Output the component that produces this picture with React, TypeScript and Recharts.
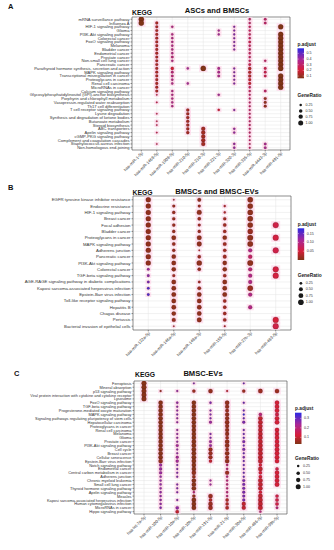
import React from "react";
import { ScatterChart, Scatter, XAxis, YAxis, CartesianGrid, ReferenceArea } from "recharts";

const FONT = '"Liberation Sans", Arial, sans-serif';

// ---------- A: ASCs and BMSCs ----------
const colsA = [
  "hsa-miR-1-5p", "hsa-miR-1468-5p", "hsa-miR-1908-5p", "hsa-miR-210-5p", "hsa-miR-210-3p",
  "hsa-miR-221-3p", "hsa-miR-320-3p", "hsa-miR-335-5p", "hsa-miR-4443-3p", "hsa-miR-491-5p",
];
const rowsA = [
  "mRNA surveillance pathway", "Influenza A", "HIF-1 signaling pathway", "Glioma",
  "PI3K-Akt signaling pathway", "Colorectal cancer", "FoxO signaling pathway", "Melanoma",
  "Bladder cancer", "Endometrial cancer", "Prostate cancer", "Non-small cell lung cancer",
  "Pancreatic cancer", "Parathyroid hormone synthesis, secretion and action", "MAPK signaling pathway",
  "Transcriptional misregulation in cancer", "Proteoglycans in cancer", "Renal cell carcinoma",
  "MicroRNAs in cancer", "Calcium signaling pathway",
  "Glycosylphosphatidylinositol (GPI)-anchor biosynthesis", "Porphyrin and chlorophyll metabolism",
  "Vasopressin-regulated water reabsorption", "Th17 cell differentiation",
  "T cell receptor signaling pathway", "Lysine degradation",
  "Synthesis and degradation of ketone bodies", "Butanoate metabolism", "Steroid biosynthesis",
  "ABC transporters", "Apelin signaling pathway", "cGMP-PKG signaling pathway",
  "Complement and coagulation cascades", "Staphylococcus aureus infection", "Non-homologous end-joining",
];
const ratioA = [
  [1.0, 0, 0, 0, 0, 0, 0, 0.2, 0.25, 0],
  [1.0, 0.3, 0, 0, 0, 0, 0, 0.2, 0.25, 0],
  [0, 0.3, 0.2, 0, 0, 0, 0.15, 0.2, 0, 0.95],
  [0, 0.3, 0, 0, 0, 0.18, 0.15, 0.2, 0, 0],
  [0, 0.3, 0.2, 0, 0, 0.18, 0.15, 0.2, 0, 0.95],
  [0, 0.3, 0.2, 0, 0, 0, 0.15, 0.2, 0, 0.95],
  [0, 0.3, 0.2, 0, 0, 0, 0.15, 0.25, 0, 0.95],
  [0, 0.3, 0.2, 0, 0, 0, 0.15, 0.2, 0, 0.95],
  [0, 0.3, 0.2, 0, 0, 0, 0.15, 0.2, 0, 0.95],
  [0, 0.3, 0.2, 0, 0, 0, 0, 0.2, 0, 0.95],
  [0, 0.3, 0.25, 0, 0, 0, 0, 0.2, 0, 0.95],
  [0, 0.3, 0.2, 0, 0, 0, 0, 0.2, 0.2, 0.95],
  [0, 0.3, 0, 0, 0, 0, 0, 0.25, 0, 0.95],
  [0, 0.3, 0.35, 0.2, 1.0, 0.25, 0.15, 0.35, 0.25, 0.95],
  [0, 0.3, 0.25, 0, 0, 0.25, 0.15, 0.35, 0.25, 0],
  [0, 0.3, 0.25, 0, 0, 0.25, 0.15, 0.35, 0.25, 0.95],
  [0, 0.3, 0.2, 0, 0, 0, 0.15, 0.3, 0, 0.95],
  [0, 0.3, 0.2, 0.2, 0, 0, 0.15, 0.3, 0, 0.95],
  [0, 0.3, 0, 0, 0, 0, 0, 0.2, 0, 0.95],
  [0, 0.3, 0.2, 0, 0, 0, 0, 0.2, 0.25, 0],
  [0, 0.1, 0.2, 0, 0, 0.2, 0, 0.15, 0, 0],
  [0, 0, 0.2, 0, 0, 0, 0, 0.15, 0.3, 0],
  [0, 0.1, 0.2, 0, 0, 0, 0, 0.15, 0.3, 0],
  [0, 0, 0.2, 0, 0, 0, 0, 0.15, 0.3, 0],
  [0, 0, 0, 0.35, 0, 0.2, 0.15, 0.15, 0, 0],
  [0, 0.1, 0, 0.35, 0, 0, 0, 0.15, 0, 0],
  [0, 0, 0, 0.35, 0, 0, 0, 0.15, 0, 0],
  [0, 0.1, 0, 0.35, 0, 0, 0, 0.15, 0, 0],
  [0, 0.1, 0, 0.35, 0, 0, 0, 0.15, 0, 0],
  [0, 0, 0, 0.35, 0.6, 0, 0.2, 0.15, 0, 0],
  [0, 0.1, 0, 0.35, 0.6, 0, 0.2, 0.15, 0, 0],
  [0, 0, 0, 0, 0.6, 0, 0, 0.12, 0, 0],
  [0, 0, 0, 0, 0.6, 0, 0, 0.12, 0, 0],
  [0, 0.1, 0, 0, 0.6, 0, 0.2, 0.12, 0.25, 0],
  [0, 0, 0, 0, 0, 0, 0.2, 0.12, 0.25, 0],
];
const padjA = [
  [0.06, 0, 0, 0, 0, 0, 0, 0.3, 0.3, 0],
  [0.06, 0.14, 0, 0, 0, 0, 0, 0.3, 0.3, 0],
  [0, 0.14, 0.36, 0, 0, 0, 0.45, 0.28, 0, 0.06],
  [0, 0.14, 0, 0, 0, 0.4, 0.45, 0.28, 0, 0],
  [0, 0.14, 0.36, 0, 0, 0.4, 0.45, 0.28, 0, 0.06],
  [0, 0.14, 0.36, 0, 0, 0, 0.45, 0.28, 0, 0.06],
  [0, 0.14, 0.36, 0, 0, 0, 0.45, 0.25, 0, 0.06],
  [0, 0.14, 0.36, 0, 0, 0, 0.45, 0.28, 0, 0.06],
  [0, 0.14, 0.36, 0, 0, 0, 0.45, 0.28, 0, 0.06],
  [0, 0.14, 0.36, 0, 0, 0, 0, 0.28, 0, 0.06],
  [0, 0.14, 0.33, 0, 0, 0, 0, 0.28, 0, 0.06],
  [0, 0.14, 0.36, 0, 0, 0, 0, 0.28, 0.3, 0.06],
  [0, 0.14, 0, 0, 0, 0, 0, 0.25, 0, 0.06],
  [0, 0.14, 0.2, 0.4, 0.06, 0.38, 0.45, 0.15, 0.25, 0.06],
  [0, 0.14, 0.33, 0, 0, 0.38, 0.45, 0.15, 0.25, 0],
  [0, 0.14, 0.33, 0, 0, 0.38, 0.45, 0.15, 0.25, 0.06],
  [0, 0.14, 0.36, 0, 0, 0, 0.45, 0.18, 0, 0.06],
  [0, 0.14, 0.36, 0.4, 0, 0, 0.45, 0.18, 0, 0.06],
  [0, 0.14, 0, 0, 0, 0, 0, 0.28, 0, 0.06],
  [0, 0.14, 0.36, 0, 0, 0, 0, 0.28, 0.3, 0],
  [0, 0.25, 0.36, 0, 0, 0.4, 0, 0.3, 0, 0],
  [0, 0, 0.36, 0, 0, 0, 0, 0.3, 0.1, 0],
  [0, 0.25, 0.36, 0, 0, 0, 0, 0.3, 0.1, 0],
  [0, 0, 0.36, 0, 0, 0, 0, 0.3, 0.1, 0],
  [0, 0, 0, 0.12, 0, 0.2, 0.45, 0.3, 0, 0],
  [0, 0.25, 0, 0.12, 0, 0, 0, 0.3, 0, 0],
  [0, 0, 0, 0.12, 0, 0, 0, 0.3, 0, 0],
  [0, 0.25, 0, 0.12, 0, 0, 0, 0.3, 0, 0],
  [0, 0.25, 0, 0.12, 0, 0, 0, 0.3, 0, 0],
  [0, 0, 0, 0.12, 0.12, 0, 0.42, 0.3, 0, 0],
  [0, 0.25, 0, 0.12, 0.12, 0, 0.42, 0.3, 0, 0],
  [0, 0, 0, 0, 0.12, 0, 0, 0.3, 0, 0],
  [0, 0, 0, 0, 0.12, 0, 0, 0.3, 0, 0],
  [0, 0.25, 0, 0, 0.12, 0, 0.42, 0.3, 0.38, 0],
  [0, 0, 0, 0, 0, 0, 0.42, 0.3, 0.38, 0],
];

// ---------- B: BMSCs and BMSC-EVs ----------
const colsB = [
  "hsa-miR-122a-5p", "hsa-miR-146a-5p", "hsa-miR-148a-3p", "hsa-miR-155-5p", "hsa-miR-27b-3p", "hsa-miR-483-5p",
];
const rowsB = [
  "EGFR tyrosine kinase inhibitor resistance", "Endocrine resistance", "HIF-1 signaling pathway",
  "Breast cancer", "Focal adhesion", "Bladder cancer", "Proteoglycans in cancer",
  "MAPK signaling pathway", "Adherens junction", "Pancreatic cancer", "PI3K-Akt signaling pathway",
  "Colorectal cancer", "TGF-beta signaling pathway",
  "AGE-RAGE signaling pathway in diabetic complications",
  "Kaposi sarcoma-associated herpesvirus infection", "Epstein-Barr virus infection",
  "Toll-like receptor signaling pathway", "Hepatitis B", "Chagas disease", "Pertussis",
  "Bacterial invasion of epithelial cells",
];
const ratioB = [
  [0.75, 0.08, 0.4, 0, 0.85, 0],
  [0.75, 0.25, 0.25, 0.15, 0.85, 0],
  [0.75, 0.3, 0.7, 0.15, 0.85, 0],
  [0.75, 0.3, 0.35, 0.3, 0.85, 0],
  [0.75, 0.3, 0.25, 0.35, 0.85, 1.0],
  [0.75, 0.3, 0.3, 0.35, 0.8, 0],
  [0.75, 0.6, 0.65, 0.55, 0.95, 1.0],
  [0.75, 0.35, 0.7, 0.4, 0.9, 0],
  [0.75, 0.3, 0.08, 0.35, 0.45, 1.0],
  [0.75, 0.55, 0.35, 0.4, 0.5, 0],
  [0.75, 0.6, 0.8, 0.55, 0.95, 0],
  [0.2, 0.55, 0.35, 0.55, 0.45, 1.0],
  [0.2, 0.25, 0, 0.35, 0.45, 1.0],
  [0.2, 0.6, 0.2, 0.6, 0.45, 0],
  [0.2, 0.6, 0.4, 0.6, 0.85, 0],
  [0.2, 0.6, 0.6, 0.6, 0.45, 0],
  [0, 0.6, 0.6, 0.35, 0, 0],
  [0, 0.6, 0.6, 0.35, 0.45, 0],
  [0, 0.55, 0.6, 0.35, 0, 0],
  [0, 0.45, 0.65, 0.35, 0, 1.0],
  [0, 0.08, 0, 0.1, 0, 1.0],
];
const padjB = [
  [0.01, 0.02, 0.01, 0, 0.01, 0],
  [0.01, 0.015, 0.015, 0.03, 0.01, 0],
  [0.01, 0.015, 0.01, 0.03, 0.01, 0],
  [0.01, 0.015, 0.015, 0.02, 0.01, 0],
  [0.01, 0.015, 0.02, 0.02, 0.01, 0.06],
  [0.01, 0.015, 0.015, 0.02, 0.015, 0],
  [0.01, 0.01, 0.01, 0.01, 0.01, 0.055],
  [0.01, 0.015, 0.01, 0.02, 0.01, 0],
  [0.01, 0.015, 0.03, 0.02, 0.1, 0.06],
  [0.01, 0.01, 0.015, 0.02, 0.08, 0],
  [0.01, 0.01, 0.01, 0.01, 0.01, 0],
  [0.12, 0.01, 0.015, 0.01, 0.09, 0.055],
  [0.13, 0.02, 0, 0.02, 0.1, 0.055],
  [0.14, 0.01, 0.02, 0.01, 0.1, 0],
  [0.16, 0.01, 0.015, 0.01, 0.015, 0],
  [0.16, 0.01, 0.01, 0.01, 0.1, 0],
  [0, 0.01, 0.01, 0.02, 0, 0],
  [0, 0.01, 0.01, 0.02, 0.1, 0],
  [0, 0.01, 0.01, 0.02, 0, 0],
  [0, 0.015, 0.01, 0.02, 0, 0.05],
  [0, 0.03, 0, 0.03, 0, 0.06],
];

// ---------- C: BMSC-EVs ----------
const colsC = [
  "hsa-let-7a-5p", "hsa-miR-100-5p", "hsa-miR-10a-5p", "hsa-miR-10b-5p", "hsa-miR-191-5p",
  "hsa-miR-21-5p", "hsa-miR-30d-5p", "hsa-miR-486-5p", "hsa-miR-99b-5p",
];
const rowsC = [
  "Ferroptosis", "Mineral absorption", "p53 signaling pathway",
  "Viral protein interaction with cytokine and cytokine receptor", "Lysosome",
  "FoxO signaling pathway", "TGF-beta signaling pathway", "Progesterone-mediated oocyte maturation",
  "MAPK signaling pathway", "Signaling pathways regulating pluripotency of stem cells",
  "Hepatocellular carcinoma", "Proteoglycans in cancer", "Renal cell carcinoma", "Melanoma", "Glioma",
  "Prostate cancer", "PI3K-Akt signaling pathway", "Cell cycle", "Breast cancer", "Cellular senescence",
  "Epstein-Barr virus infection", "Notch signaling pathway", "Endometrial cancer",
  "Central carbon metabolism in cancer", "Adherens junction", "Chronic myeloid leukemia",
  "Small cell lung cancer", "Thyroid hormone signaling pathway", "Apelin signaling pathway", "Measles",
  "Kaposi sarcoma-associated herpesvirus infection", "Human cytomegalovirus infection",
  "MicroRNAs in cancer", "Hippo signaling pathway",
];
const ratioC = [
  [0.9, 0, 0, 0.12, 0, 0, 0.12, 0, 0],
  [0.9, 0, 0, 0, 0, 0, 0, 0, 0],
  [0.9, 0.15, 0.15, 0.4, 0.7, 0.15, 0.4, 0.75, 0.7],
  [0.9, 0, 0, 0, 0, 0, 0, 0, 0],
  [0.9, 0, 0, 0, 0, 0, 0, 0, 0],
  [0, 0.7, 0.2, 0.7, 0.2, 0.7, 0.15, 0, 0.7],
  [0, 0.7, 0.15, 0.7, 0, 0.6, 0, 0, 0.7],
  [0, 0.7, 0.15, 0.7, 0.15, 0.5, 0.15, 0, 0.7],
  [0, 0.7, 0.15, 0.7, 0.15, 0.6, 0.15, 0.4, 0.5],
  [0, 0.7, 0.15, 0.7, 0.15, 0.6, 0.15, 0.7, 0.7],
  [0, 0.7, 0.15, 0.7, 0.3, 0.7, 0.3, 0.75, 0.75],
  [0, 0.7, 0, 0.7, 0, 0.6, 0, 0.7, 0],
  [0, 0.7, 0.15, 0.7, 0, 0.6, 0.15, 0.7, 0.7],
  [0, 0.7, 0.15, 0.7, 0.15, 0.6, 0.15, 0.75, 0.7],
  [0, 0.7, 0.15, 0.7, 0.15, 0.45, 0.15, 0.75, 0.7],
  [0, 0.7, 0.15, 0.75, 0.3, 0.7, 0.3, 0.75, 0.7],
  [0, 0.7, 0.3, 0.75, 0.3, 0.7, 0.15, 0.75, 0.75],
  [0, 0.7, 0.15, 0.75, 0.6, 0.45, 0.3, 0.8, 0.75],
  [0, 0.7, 0.15, 0.75, 0.6, 0.7, 0.15, 0.8, 0.75],
  [0, 0.7, 0.3, 0.75, 0.6, 0.5, 0.2, 0.8, 0.75],
  [0, 0.7, 0.35, 0.75, 0.4, 0.7, 0.15, 0.8, 0.7],
  [0, 0.35, 0.15, 0.7, 0, 0.2, 0.15, 0.4, 0],
  [0, 0.35, 0.15, 0.7, 0, 0.2, 0.15, 0.7, 0.4],
  [0, 0.35, 0.15, 0.7, 0, 0.6, 0.15, 0.45, 0.7],
  [0, 0.2, 0.15, 0.45, 0, 0.2, 0.15, 0.45, 0.7],
  [0, 0.2, 0, 0.7, 0.15, 0.2, 0.3, 0.75, 0.7],
  [0, 0.2, 0.15, 0.7, 0.15, 0.2, 0.3, 0.75, 0.75],
  [0, 0.2, 0.15, 0.7, 0, 0.2, 0.3, 0.7, 0],
  [0, 0.2, 0.15, 0.2, 0, 0.2, 0.3, 0.4, 0],
  [0, 0.2, 0, 0.4, 0.7, 0.2, 0.3, 0.75, 0.4],
  [0, 0.2, 0.15, 0.75, 0.45, 0.4, 0.3, 0.8, 0.45],
  [0, 0.2, 0, 0.75, 0.7, 0.4, 0.6, 0.8, 0.45],
  [0, 0.2, 0.4, 0.75, 0.7, 0.45, 0.6, 0.8, 0.25],
  [0, 0, 0.45, 0, 0, 0, 0, 0.2, 0],
];
const padjC = [
  [0.04, 0, 0, 0.28, 0, 0, 0.3, 0, 0],
  [0.04, 0, 0, 0, 0, 0, 0, 0, 0],
  [0.04, 0.06, 0.26, 0.06, 0.05, 0.1, 0.06, 0.06, 0.06],
  [0.04, 0, 0, 0, 0, 0, 0, 0, 0],
  [0.04, 0, 0, 0, 0, 0, 0, 0, 0],
  [0, 0.04, 0.26, 0.04, 0.28, 0.05, 0.3, 0, 0.12],
  [0, 0.04, 0.26, 0.04, 0, 0.05, 0, 0, 0.12],
  [0, 0.04, 0.26, 0.04, 0.28, 0.06, 0.3, 0, 0.12],
  [0, 0.04, 0.28, 0.04, 0.28, 0.05, 0.35, 0.2, 0.14],
  [0, 0.04, 0.26, 0.04, 0.28, 0.05, 0.3, 0.1, 0.12],
  [0, 0.04, 0.26, 0.04, 0.25, 0.05, 0.28, 0.1, 0.12],
  [0, 0.04, 0, 0.04, 0, 0.05, 0, 0.1, 0],
  [0, 0.04, 0.26, 0.04, 0, 0.05, 0.3, 0.1, 0.12],
  [0, 0.04, 0.26, 0.04, 0.28, 0.05, 0.3, 0.1, 0.12],
  [0, 0.04, 0.26, 0.04, 0.28, 0.06, 0.3, 0.1, 0.12],
  [0, 0.04, 0.26, 0.04, 0.25, 0.05, 0.28, 0.1, 0.12],
  [0, 0.04, 0.24, 0.04, 0.25, 0.05, 0.3, 0.1, 0.12],
  [0, 0.04, 0.26, 0.04, 0.06, 0.06, 0.28, 0.1, 0.12],
  [0, 0.04, 0.26, 0.04, 0.06, 0.05, 0.3, 0.1, 0.12],
  [0, 0.04, 0.24, 0.04, 0.06, 0.06, 0.28, 0.1, 0.12],
  [0, 0.05, 0.24, 0.04, 0.1, 0.05, 0.3, 0.1, 0.12],
  [0, 0.25, 0.28, 0.04, 0, 0.2, 0.3, 0.12, 0],
  [0, 0.25, 0.28, 0.04, 0, 0.2, 0.3, 0.1, 0.14],
  [0, 0.25, 0.28, 0.05, 0, 0.06, 0.3, 0.12, 0.12],
  [0, 0.26, 0.28, 0.05, 0, 0.2, 0.3, 0.12, 0.12],
  [0, 0.26, 0, 0.04, 0.25, 0.2, 0.28, 0.1, 0.12],
  [0, 0.26, 0.28, 0.04, 0.25, 0.2, 0.28, 0.1, 0.12],
  [0, 0.26, 0.28, 0.04, 0, 0.2, 0.28, 0.1, 0],
  [0, 0.26, 0.28, 0.2, 0, 0.2, 0.28, 0.12, 0],
  [0, 0.26, 0, 0.05, 0.06, 0.2, 0.28, 0.1, 0.14],
  [0, 0.26, 0.28, 0.04, 0.08, 0.08, 0.28, 0.1, 0.14],
  [0, 0.26, 0, 0.04, 0.06, 0.08, 0.1, 0.1, 0.14],
  [0, 0.28, 0.26, 0.04, 0.06, 0.08, 0.1, 0.1, 0.2],
  [0, 0, 0.1, 0, 0, 0, 0, 0.2, 0],
];

const geneRatioKeys = [0.25, 0.5, 0.75, 1.0];
const geneRatioLabels = ["0.25", "0.50", "0.75", "1.00"];

// brown (low p) -> red -> magenta -> blue (high p)
const STOPS: [number, number[]][] = [
  [0, [128, 52, 22]],
  [0.28, [214, 30, 58]],
  [0.62, [170, 40, 150]],
  [1, [42, 42, 228]],
];

function padjColor(p: number, lo: number, hi: number) {
  const t = Math.max(0, Math.min(1, (p - lo) / (hi - lo)));
  for (let i = 1; i < STOPS.length; i++) {
    if (t <= STOPS[i][0]) {
      const [t0, c0] = STOPS[i - 1];
      const [t1, c1] = STOPS[i];
      const f = (t - t0) / (t1 - t0);
      const c = c0.map((v, k) => Math.round(v + (c1[k] - v) * f));
      return `rgb(${c[0]},${c[1]},${c[2]})`;
    }
  }
  return "rgb(42,42,228)";
}

type PanelProps = {
  rows: string[];
  cols: string[];
  ratio: number[][];
  padj: number[][];
  lo: number;
  hi: number;
  maxR: number;
  top: number;
  height: number;
  marginTop: number;
  xAxisHeight: number;
  yAxisWidth: number;
  right: number;
  rowFont: number;
};

function DotPanel(p: PanelProps) {
  const data: { x: number; y: number; ratio: number; padj: number }[] = [];
  p.ratio.forEach((row, r) =>
    row.forEach((v, c) => {
      if (v > 0) data.push({ x: c, y: r, ratio: v, padj: p.padj[r][c] });
    })
  );
  const nR = p.rows.length;
  const nC = p.cols.length;
  const radius = (g: number) => Math.max(0.7, p.maxR * Math.sqrt(g));

  const halo = (props: any) => {
    const { cx, cy, payload } = props;
    const rad = radius(payload.ratio);
    return (
      <rect x={cx - rad - 1.6} y={cy - rad - 1.1} width={2 * rad + 3.2} height={2 * rad + 2.2} fill="#ffd6ea" opacity={0.7} />
    );
  };
  const dot = (props: any) => {
    const { cx, cy, payload } = props;
    return (
      <circle cx={cx} cy={cy} r={radius(payload.ratio)} fill={padjColor(payload.padj, p.lo, p.hi)}
        stroke="rgba(50,15,10,0.55)" strokeWidth={0.35} />
    );
  };

  const xTick = (props: any) => {
    const { x, y, payload } = props;
    return (
      <text x={x + 1} y={y} transform={`rotate(-45 ${x + 1} ${y})`} textAnchor="end" dominantBaseline="central"
        fontSize={4.2} fill="#333" fontFamily={FONT}>
        {p.cols[payload.value]}
      </text>
    );
  };
  const yTick = (props: any) => {
    const { x, y, payload } = props;
    return (
      <text x={x} y={y} textAnchor="end" dominantBaseline="central" fontSize={p.rowFont} fill="#333" fontFamily={FONT}>
        {p.rows[payload.value]}
      </text>
    );
  };

  return (
    <div style={{ position: "absolute", left: 0, top: p.top }}>
      <ScatterChart width={334} height={p.height} margin={{ top: p.marginTop, right: p.right, bottom: 0, left: 0 }}>
        <CartesianGrid stroke="#e4e4e4" strokeWidth={0.5} />
        <XAxis type="number" dataKey="x" domain={[-0.6, nC - 0.4]} allowDataOverflow
          ticks={p.cols.map((_, i) => i)} interval={0} height={p.xAxisHeight}
          axisLine={false} tickSize={1.5} tickMargin={1} tickLine={{ stroke: "#333", strokeWidth: 0.5 }} tick={xTick} />
        <YAxis type="number" dataKey="y" domain={[-0.6, nR - 0.4]} allowDataOverflow reversed
          ticks={p.rows.map((_, i) => i)} interval={0} width={p.yAxisWidth}
          axisLine={false} tickSize={1.5} tickMargin={1} tickLine={{ stroke: "#333", strokeWidth: 0.5 }} tick={yTick} />
        <Scatter data={data} shape={halo} isAnimationActive={false} />
        <Scatter data={data} shape={dot} isAnimationActive={false} />
        <ReferenceArea x1={-0.6} x2={nC - 0.4} y1={-0.6} y2={nR - 0.4} fill="none" fillOpacity={0}
          stroke="#4d4d4d" strokeWidth={0.6} />
      </ScatterChart>
    </div>
  );
}

type LegendProps = {
  id: string;
  x: number;
  titleY: number;
  barTop: number;
  barBottom: number;
  lo: number;
  hi: number;
  ticks: number[];
  tickLabels: string[];
  grTitleY: number;
  grY: number[];
  maxR: number;
};

function PanelLegend(l: LegendProps) {
  const toY = (v: number) => l.barBottom - ((v - l.lo) / (l.hi - l.lo)) * (l.barBottom - l.barTop);
  return (
    <g fontFamily={FONT} fill="#222">
      <defs>
        <linearGradient id={l.id} x1="0" y1="1" x2="0" y2="0">
          {STOPS.map(([t, c]) => (
            <stop key={t} offset={t} stopColor={`rgb(${c[0]},${c[1]},${c[2]})`} />
          ))}
        </linearGradient>
      </defs>
      <text x={l.x} y={l.titleY} fontSize={4.8} fontWeight="bold">p.adjust</text>
      <rect x={l.x} y={l.barTop} width={6.5} height={l.barBottom - l.barTop} fill={`url(#${l.id})`} />
      {l.ticks.map((t, i) => (
        <g key={t}>
          <line x1={l.x} x2={l.x + 1.3} y1={toY(t)} y2={toY(t)} stroke="#fff" strokeWidth={0.4} />
          <line x1={l.x + 5.2} x2={l.x + 6.5} y1={toY(t)} y2={toY(t)} stroke="#fff" strokeWidth={0.4} />
          <text x={l.x + 9} y={toY(t)} fontSize={3.6} dominantBaseline="central" fill="#333">{l.tickLabels[i]}</text>
        </g>
      ))}
      <text x={l.x} y={l.grTitleY} fontSize={4.8} fontWeight="bold">GeneRatio</text>
      {geneRatioKeys.map((g, i) => (
        <g key={g}>
          <circle cx={l.x + 3.2} cy={l.grY[i]} r={l.maxR * Math.sqrt(g)} fill="#1a1a1a" />
          <text x={l.x + 8} y={l.grY[i]} fontSize={3.6} dominantBaseline="central" fill="#333">{geneRatioLabels[i]}</text>
        </g>
      ))}
    </g>
  );
}

export default function App() {
  return (
    <div style={{ position: "absolute", left: 0, top: 0, width: 334, height: 550, background: "#fff", overflow: "hidden" }}>
      <DotPanel rows={rowsA} cols={colsA} ratio={ratioA} padj={padjA} lo={0.06} hi={0.59} maxR={2.6}
        top={0} height={190} marginTop={17} xAxisHeight={40} yAxisWidth={132} right={44} rowFont={4.1} />
      <DotPanel rows={rowsB} cols={colsB} ratio={ratioB} padj={padjB} lo={0} hi={0.18} maxR={2.9}
        top={180} height={200} marginTop={16} xAxisHeight={50} yAxisWidth={133} right={43} rowFont={4.3} />
      <DotPanel rows={rowsC} cols={colsC} ratio={ratioC} padj={padjC} lo={0.03} hi={0.36} maxR={2.6}
        top={360} height={190} marginTop={21} xAxisHeight={36} yAxisWidth={134} right={47} rowFont={3.9} />

      <svg width={334} height={550} style={{ position: "absolute", left: 0, top: 0, pointerEvents: "none" }}>
        <g fontFamily={FONT} fontWeight="bold" fill="#111">
          <text x={8} y={9} fontSize={7.5}>A</text>
          <text x={142} y={15} fontSize={6.8} textAnchor="middle">KEGG</text>
          <text x={217} y={13} fontSize={7.6} textAnchor="middle">ASCs and BMSCs</text>
          <text x={8} y={190} fontSize={7.5}>B</text>
          <text x={142.5} y={194.5} fontSize={6.8} textAnchor="middle">KEGG</text>
          <text x={217} y={194} fontSize={7.6} textAnchor="middle">BMSCs and BMSC-EVs</text>
          <text x={14} y={376} fontSize={7.5}>C</text>
          <text x={145} y={377} fontSize={6.8} textAnchor="middle">KEGG</text>
          <text x={203} y={376} fontSize={7.6} textAnchor="middle">BMSC-EVs</text>
        </g>
        <PanelLegend id="gA" x={297.5} titleY={45.5} barTop={48.3} barBottom={78.3} lo={0.06} hi={0.59}
          ticks={[0.1, 0.2, 0.3, 0.4, 0.5]} tickLabels={["0.1", "0.2", "0.3", "0.4", "0.5"]}
          grTitleY={97} grY={[105, 111, 116.7, 123]} maxR={2.5} />
        <PanelLegend id="gB" x={297.7} titleY={225.5} barTop={228.3} barBottom={260} lo={0} hi={0.18}
          ticks={[0.05, 0.1, 0.15]} tickLabels={["0.05", "0.10", "0.15"]}
          grTitleY={277} grY={[283.3, 289.3, 295.7, 302.3]} maxR={2.8} />
        <PanelLegend id="gC" x={295} titleY={410} barTop={412.7} barBottom={444} lo={0.03} hi={0.36}
          ticks={[0.1, 0.2, 0.3]} tickLabels={["0.1", "0.2", "0.3"]}
          grTitleY={460} grY={[466, 473.3, 480, 486.7]} maxR={2.5} />
      </svg>
    </div>
  );
}
